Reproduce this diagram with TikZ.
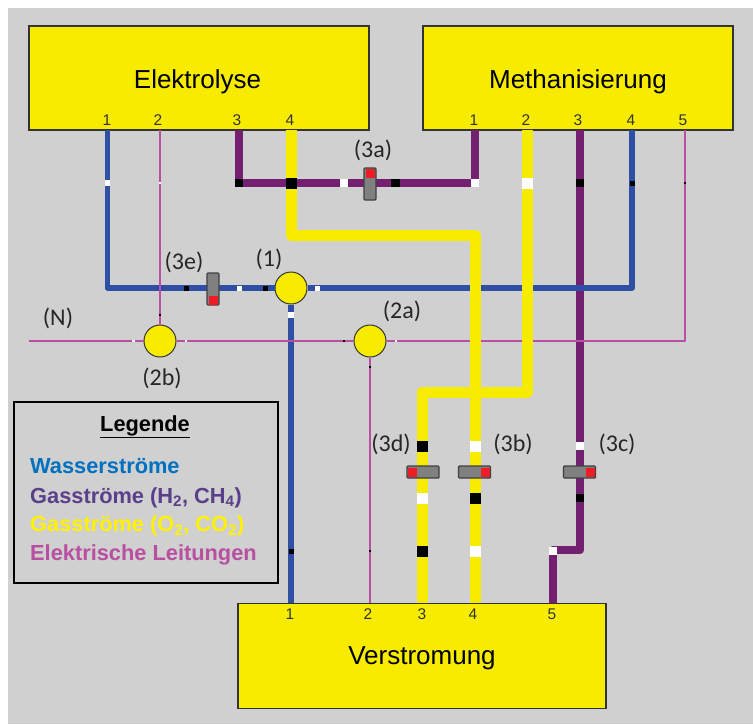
\documentclass[tikz,border=0pt]{standalone}
\usepackage{fontspec}
\setmainfont{Liberation Sans}
\newfontfamily\calloutfont{Carlito}
\definecolor{panelgray}{HTML}{D0D0D0}
\definecolor{blockyellow}{HTML}{F7EC00}
\definecolor{pipeblue}{HTML}{2E4FA3}
\definecolor{pipepurple}{HTML}{72206F}
\definecolor{pipemagenta}{HTML}{B84FA0}
\definecolor{valvered}{HTML}{EE1C25}
\definecolor{legendblue}{HTML}{0070C0}
\definecolor{legendpurple}{HTML}{5B3F8A}
\tikzset{
  block/.style={draw=black!80, line width=1.3pt, fill=blockyellow, font=\fontsize{26}{30}\selectfont, inner sep=0pt},
  portnum/.style={font=\fontsize{15.5}{18}\selectfont, text=black!80, inner sep=0pt},
  callout/.style={font=\calloutfont\fontsize{24}{28}\selectfont, text=black!85, inner sep=0pt},
  legendline/.style={font=\bfseries\fontsize{21.8}{24}\selectfont, anchor=west, inner sep=0pt},
  bluepipe/.style={draw=pipeblue, line width=5.5pt, line join=round},
  purplepipe/.style={draw=pipepurple, line width=8.5pt, line join=round},
  magentapipe/.style={draw=pipemagenta, line width=2.8pt, line join=round},
  yellowpipe/.style={draw=blockyellow, line width=11pt, line join=round},
  blackmark/.style={fill=black, minimum size=#1pt, inner sep=0pt},
  whitemark/.style={fill=white, minimum size=#1pt, inner sep=0pt},
  junction/.style={circle, draw=black!80, line width=1pt, fill=blockyellow, minimum size=32pt, inner sep=0pt},
  valvebody/.style={draw=black!75, line width=1.4pt, fill=black!50, rounded corners=1pt, inner sep=0pt},
  valvetip/.style={fill=valvered, inner sep=0pt}
}
\begin{document}
\begin{tikzpicture}[x=1pt,y=-1pt]
  \useasboundingbox (0,0) rectangle (753,724);
  \fill[white] (0,0) rectangle (753,724);
  \fill[panelgray] (8,8) rectangle (753,724);

  % blocks
  \node[block, minimum width=340pt, minimum height=104pt] (elektrolyse) at (199,78){};
  \node[block, minimum width=310pt, minimum height=104pt] (methan) at (578,78){};
  \node[block, minimum width=368pt, minimum height=105pt] (verstromung) at (422,656){};
  \node[font=\fontsize{26}{30}\selectfont, inner sep=0pt] (elektrolysetxt) at (197.5,82){Elektrolyse};
  \node[font=\fontsize{26}{30}\selectfont, inner sep=0pt] (methantxt) at (578,82){Methanisierung};
  \node[font=\fontsize{26}{30}\selectfont, inner sep=0pt] (verstromungtxt) at (422,658){Verstromung};

  \node[portnum] (elabel1) at (107,120){1};
  \node[portnum] (elabel2) at (158,120){2};
  \node[portnum] (elabel3) at (237,120){3};
  \node[portnum] (elabel4) at (290,120){4};
  \node[portnum] (mlabel1) at (474,120){1};
  \node[portnum] (mlabel2) at (526,120){2};
  \node[portnum] (mlabel3) at (578,120){3};
  \node[portnum] (mlabel4) at (631,120){4};
  \node[portnum] (mlabel5) at (683,120){5};
  \node[portnum] (vlabel1) at (290,614){1};
  \node[portnum] (vlabel2) at (368,614){2};
  \node[portnum] (vlabel3) at (422,614){3};
  \node[portnum] (vlabel4) at (473,614){4};
  \node[portnum] (vlabel5) at (552,614){5};

  % ports and corners
  \coordinate (e1) at (107.5,130);
  \coordinate (e2) at (160,130);
  \coordinate (e3) at (239,130);
  \coordinate (e4) at (291,130);
  \coordinate (m1) at (475,130);
  \coordinate (m2) at (527,130);
  \coordinate (m3) at (580,130);
  \coordinate (m4) at (632,130);
  \coordinate (m5) at (685,130);
  \coordinate (v1) at (291,603);
  \coordinate (v2) at (370,603);
  \coordinate (v3) at (422,603);
  \coordinate (v4) at (475,603);
  \coordinate (v5) at (553,603);
  \coordinate (gridstart) at (29,341);

  % junctions
  \node[junction] (j1) at (291,288){};
  \node[junction] (j2a) at (370,341){};
  \node[junction] (j2b) at (160,341){};

  % pipes, back to front
  \draw[purplepipe] (e3) -- (239,183) -- (475,183) -- (m1);
  \draw[purplepipe] (m3) -- (580,550) -- (553,550) -- (v5);
  \draw[bluepipe] (e1) -- (107.5,288) -- (j1);
  \draw[bluepipe] (j1) -- (632,288) -- (m4);
  \draw[bluepipe, line width=6pt] (j1) -- (v1);
  \draw[magentapipe] (e2) -- (j2b);
  \draw[magentapipe] (gridstart) -- (j2b);
  \draw[magentapipe] (j2b) -- (j2a);
  \draw[magentapipe] (j2a) -- (685,341) -- (m5);
  \draw[magentapipe] (j2a) -- (v2);
  \draw[yellowpipe] (e4) -- (291,235) -- (475,235) -- (v4);
  \draw[yellowpipe] (m2) -- (527,392) -- (422,392) -- (v3);

  % marks on the pipes
  \node[whitemark=5.5] (mk1) at (107.5,183){};
  \node[whitemark=2.5] (mk2) at (160,183){};
  \node[blackmark=8.5] (mk3) at (239,183){};
  \node[blackmark=11] (mk4) at (291,183){};
  \node[whitemark=8.5] (mk5) at (344,183){};
  \node[blackmark=8.5] (mk6) at (395.5,183){};
  \node[whitemark=8.5] (mk7) at (475,183){};
  \node[whitemark=11] (mk8) at (527,183){};
  \node[blackmark=8.5] (mk9) at (580,183){};
  \node[blackmark=5] (mk10) at (632,183){};
  \node[blackmark=2.5] (mk11) at (685,183){};

  \node[blackmark=5] (mk12) at (186,288){};
  \node[whitemark=5] (mk13) at (239,288){};
  \node[blackmark=5] (mk14) at (265.5,288){};
  \node[whitemark=5] (mk15) at (317,288){};
  \node[whitemark=6] (mk16) at (291,315){};
  \node[blackmark=2.5] (mk17) at (160,315){};

  \node[whitemark=2.5] (mk18) at (133.5,341){};
  \node[whitemark=2.5] (mk19) at (186,341){};
  \node[blackmark=2.5] (mk20) at (344,341){};
  \node[whitemark=2.5] (mk21) at (396,341){};
  \node[blackmark=2.5] (mk22) at (370,367){};

  \node[blackmark=11] (mk23) at (422,446){};
  \node[whitemark=11] (mk24) at (422,498){};
  \node[blackmark=11] (mk25) at (422,551){};
  \node[whitemark=11] (mk26) at (475,446){};
  \node[blackmark=11] (mk27) at (475,498){};
  \node[whitemark=11] (mk28) at (475,551){};
  \node[whitemark=8.5] (mk29) at (580,446){};
  \node[blackmark=8.5] (mk30) at (580,498){};
  \node[whitemark=8.5] (mk31) at (553,551){};
  \node[blackmark=5] (mk32) at (291,551){};
  \node[blackmark=2.5] (mk33) at (370,551){};

  % valves
  \node[valvebody, minimum width=12pt, minimum height=32pt] (v3a) at (370,184){};
  \node[valvetip, minimum width=9pt, minimum height=9pt] (v3atip) at (370,173){};
  \node[valvebody, minimum width=12pt, minimum height=32pt] (v3e) at (213,289){};
  \node[valvetip, minimum width=9pt, minimum height=9pt] (v3etip) at (213,300){};
  \node[valvebody, minimum width=32pt, minimum height=12pt] (v3d) at (423,472){};
  \node[valvetip, minimum width=9pt, minimum height=9pt] (v3dtip) at (412.5,472){};
  \node[valvebody, minimum width=32pt, minimum height=12pt] (v3b) at (474.5,472){};
  \node[valvetip, minimum width=9pt, minimum height=9pt] (v3btip) at (485.5,472){};
  \node[valvebody, minimum width=32pt, minimum height=12pt] (v3c) at (579.5,472){};
  \node[valvetip, minimum width=9pt, minimum height=9pt] (v3ctip) at (590.5,472){};

  % labels
  \node[callout] (lbl3a) at (373,150){(3a)};
  \node[callout] (lbl3e) at (184,262){(3e)};
  \node[callout] (lbl1) at (269,259){(1)};
  \node[callout] (lbl2a) at (402,311){(2a)};
  \node[callout] (lbl2b) at (162,378){(2b)};
  \node[callout] (lblN) at (58,318){(N)};
  \node[callout] (lbl3d) at (391,444){(3d)};
  \node[callout] (lbl3b) at (513,444){(3b)};
  \node[callout] (lbl3c) at (617,444){(3c)};

  % legend
  \node[draw=black, line width=2pt, minimum width=264pt, minimum height=181pt, inner sep=0pt] (legend) at (145.5,492){};
  \node[font=\bfseries\fontsize{21.8}{24}\selectfont, inner sep=0pt] (legendtitle) at (145,426.5){\underline{Legende}};
  \node[legendline, text=legendblue] (legwater) at (30,466){Wasserströme};
  \node[legendline, text=legendpurple] (leggasa) at (30,497.5){Gasströme (H\textsubscript{2}, CH\textsubscript{4})};
  \node[legendline, text=yellow] (leggasb) at (30,526){Gasströme (O\textsubscript{2}, CO\textsubscript{2})};
  \node[legendline, text=pipemagenta] (legelec) at (30,554.5){Elektrische Leitungen};
\end{tikzpicture}
\end{document}
